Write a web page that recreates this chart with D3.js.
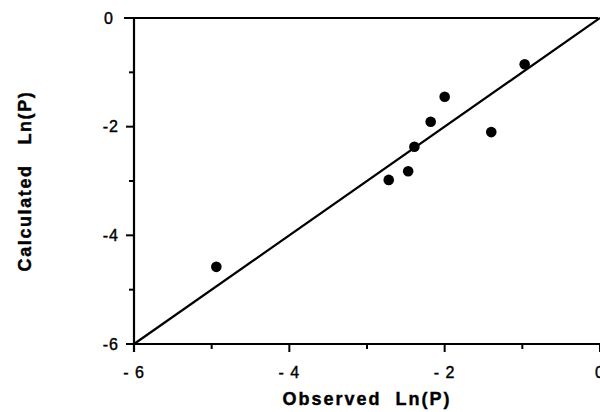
<!DOCTYPE html>
<html>
<head>
<meta charset="utf-8">
<script src="https://cdn.jsdelivr.net/npm/d3@7"></script>
<style>
  body { margin: 0; background: #fff; }
  text { font-family: "Liberation Sans", Arial, sans-serif; fill: #000; }
</style>
</head>
<body>
<svg id="chart"></svg>
<script>
// observed vs calculated ln(P)
var observed   = [-4.94, -2.72, -2.47, -2.39, -2.18, -2.00, -1.40, -0.97];
var calculated = [-4.58, -2.98, -2.82, -2.37, -1.91, -1.45, -2.10, -0.85];
var majorTicks = [-6, -4, -2, 0];
var minorTicks = [-5, -3, -1];
var xTickText  = ["- 6", "- 4", "- 2", "0"];
var yTickText  = ["-6", "-4", "-2", "0"];

var width = 600, height = 412;
var plotLeft = 134, plotRight = 600, plotTop = 18, plotBottom = 344;

var svg = d3.select("#chart")
    .attr("width", width)
    .attr("height", height);

var x = d3.scaleLinear().domain([-6, 0]).range([plotLeft, plotRight]);
var y = d3.scaleLinear().domain([-6, 0]).range([plotBottom, plotTop]);

// top border
svg.append("line")
    .attr("x1", plotLeft - 10).attr("x2", plotRight - 2)
    .attr("y1", y(0)).attr("y2", y(0))
    .attr("stroke", "#000").attr("stroke-width", 2);

// left axis
var yAxis = svg.append("g").attr("transform", `translate(${plotLeft},0)`);
yAxis.append("line")
    .attr("x1", 0).attr("x2", 0)
    .attr("y1", plotTop).attr("y2", plotBottom + 8)
    .attr("stroke", "#000").attr("stroke-width", 2.2);
yAxis.selectAll(".maj")
    .data(majorTicks).enter().append("line")
    .attr("x1", -8).attr("x2", 0)
    .attr("y1", d => y(d)).attr("y2", d => y(d))
    .attr("stroke", "#000").attr("stroke-width", 2);
yAxis.selectAll(".min")
    .data(minorTicks).enter().append("line")
    .attr("x1", -5).attr("x2", 0)
    .attr("y1", d => y(d)).attr("y2", d => y(d))
    .attr("stroke", "#000").attr("stroke-width", 2);
yAxis.selectAll(".lab")
    .data(majorTicks).enter().append("text")
    .attr("x", d => d === 0 ? -20 : -15)
    .attr("y", d => y(d))
    .attr("dy", "0.36em")
    .attr("text-anchor", "end")
    .style("font-size", "16px")
    .style("letter-spacing", "1px")
    .style("stroke", "#000").style("stroke-width", 0.4)
    .text((d, i) => yTickText[i]);

// bottom axis
var xAxis = svg.append("g").attr("transform", `translate(0,${plotBottom})`);
xAxis.append("line")
    .attr("x1", plotLeft - 8).attr("x2", plotRight)
    .attr("y1", 0).attr("y2", 0)
    .attr("stroke", "#000").attr("stroke-width", 2.2);
xAxis.selectAll(".maj")
    .data(majorTicks).enter().append("line")
    .attr("x1", d => x(d)).attr("x2", d => x(d))
    .attr("y1", 0).attr("y2", 8)
    .attr("stroke", "#000").attr("stroke-width", 2);
xAxis.selectAll(".min")
    .data(minorTicks).enter().append("line")
    .attr("x1", d => x(d)).attr("x2", d => x(d))
    .attr("y1", 0).attr("y2", 5)
    .attr("stroke", "#000").attr("stroke-width", 2);
xAxis.selectAll(".lab")
    .data(majorTicks).enter().append("text")
    .attr("x", d => x(d))
    .attr("y", 34)
    .attr("text-anchor", "middle")
    .style("font-size", "16px")
    .style("letter-spacing", "1px")
    .style("white-space", "pre")
    .style("stroke", "#000").style("stroke-width", 0.4)
    .text((d, i) => xTickText[i]);

// 1:1 line
svg.append("line")
    .attr("x1", x(-6)).attr("y1", y(-6))
    .attr("x2", x(0)).attr("y2", y(0))
    .attr("stroke", "#000").attr("stroke-width", 2.2);

// points
svg.selectAll(".pt")
    .data(observed).enter().append("circle")
    .attr("cx", d => x(d))
    .attr("cy", (d, i) => y(calculated[i]))
    .attr("r", 5.3)
    .attr("fill", "#000");

// axis titles
svg.append("text")
    .attr("x", (plotLeft + plotRight) / 2)
    .attr("y", 405)
    .attr("text-anchor", "middle")
    .style("font-size", "18px")
    .style("font-weight", "bold")
    .style("letter-spacing", "2px")
    .style("white-space", "pre")
    .style("stroke", "#000").style("stroke-width", 0.4)
    .text("Observed  Ln(P)");

svg.append("text")
    .attr("transform", `translate(31,${(plotTop + plotBottom) / 2}) rotate(-90)`)
    .attr("text-anchor", "middle")
    .style("font-size", "18px")
    .style("font-weight", "bold")
    .style("letter-spacing", "1.6px")
    .style("white-space", "pre")
    .style("stroke", "#000").style("stroke-width", 0.4)
    .text("Calculated   Ln(P)");
</script>
</body>
</html>
